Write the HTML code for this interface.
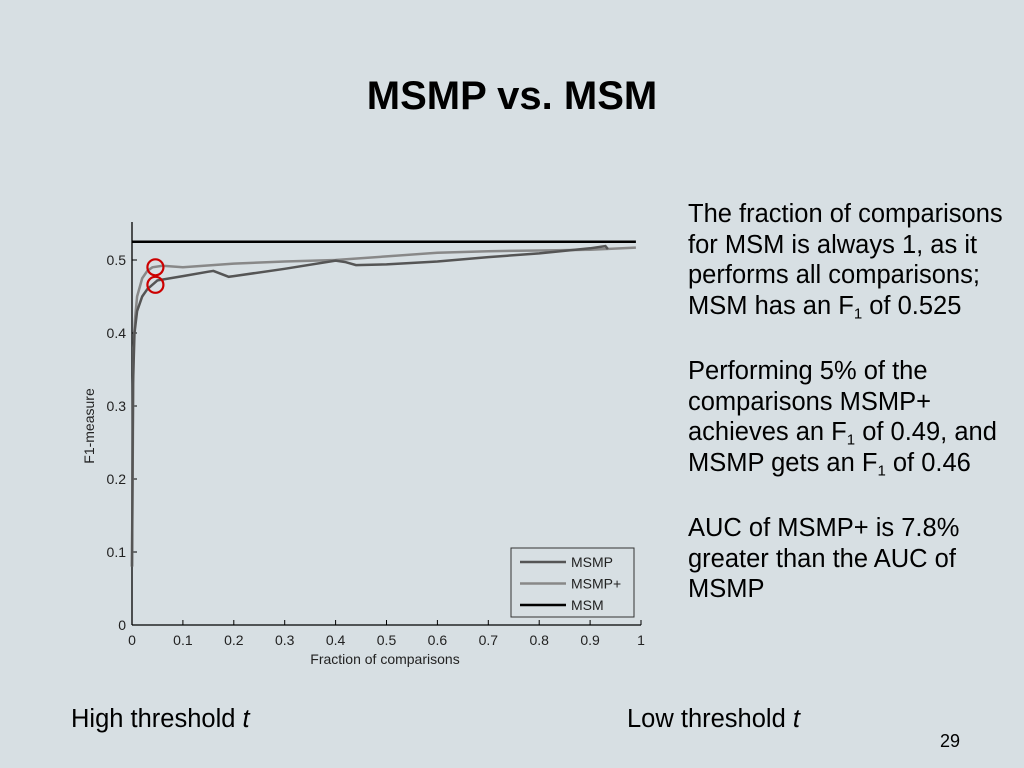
<!DOCTYPE html>
<html><head><meta charset="utf-8"><style>
body{margin:0;width:1024px;height:768px;background:#d7dfe3;font-family:"Liberation Sans",sans-serif;overflow:hidden;position:relative}
.t{position:absolute;color:#000;white-space:nowrap}
sub{font-size:15px;line-height:0;vertical-align:-0.3em}
</style></head><body>
<div class="t" style="left:0;width:1024px;top:74px;text-align:center;font-size:40px;font-weight:bold;">MSMP vs. MSM</div>
<div class="t" style="left:688px;top:199px;font-size:25.5px;line-height:30.5px;width:336px">
<div>The fraction of comparisons<br>for MSM is always 1, as it<br>performs all comparisons;<br>MSM has an F<sub>1</sub> of 0.525</div>
<div style="margin-top:35px">Performing 5% of the<br>comparisons MSMP+<br>achieves an F<sub>1</sub> of 0.49, and<br>MSMP gets an F<sub>1</sub> of 0.46</div>
<div style="margin-top:35px">AUC of MSMP+ is 7.8%<br>greater than the AUC of<br>MSMP</div>
</div>
<div class="t" style="left:71px;top:705px;font-size:25.5px">High threshold <i>t</i></div>
<div class="t" style="left:627px;top:705px;font-size:25.5px">Low threshold <i>t</i></div>
<div class="t" style="left:940px;top:731px;font-size:18px">29</div>
<svg id="chart" width="1024" height="768" style="position:absolute;left:0;top:0"></svg>
<script>
const xTicks=[0,0.1,0.2,0.3,0.4,0.5,0.6,0.7,0.8,0.9,1];
const xTickLabels=["0","0.1","0.2","0.3","0.4","0.5","0.6","0.7","0.8","0.9","1"];
const yTicks=[0,0.1,0.2,0.3,0.4,0.5];
const yTickLabels=["0","0.1","0.2","0.3","0.4","0.5"];
const msmpX=[0,0.002,0.005,0.01,0.02,0.03,0.05,0.1,0.15,0.16,0.19,0.2,0.3,0.4,0.42,0.44,0.5,0.6,0.7,0.8,0.9,0.93,0.935];
const msmpY=[0.08,0.33,0.40,0.43,0.45,0.46,0.472,0.478,0.484,0.485,0.477,0.478,0.488,0.499,0.497,0.493,0.494,0.498,0.504,0.509,0.516,0.519,0.515];
const msmpPlusX=[0,0.003,0.006,0.01,0.02,0.03,0.04,0.06,0.1,0.2,0.3,0.4,0.5,0.6,0.7,0.8,0.9,0.99];
const msmpPlusY=[0.08,0.38,0.42,0.45,0.475,0.485,0.49,0.492,0.49,0.495,0.498,0.5,0.505,0.51,0.512,0.513,0.514,0.517];
const msmX=[0,0.99];
const msmY=[0.525,0.525];
const markerX=[0.046,0.046];
const markerY=[0.49,0.466];
const legendLabels=["MSMP","MSMP+","MSM"];
const colors=["#555","#888","#000"];
const NS="http://www.w3.org/2000/svg";
const svg=document.getElementById('chart');
const sx=v=>132+v*509, sy=v=>625-v*730;
function mk(t,a){const e=document.createElementNS(NS,t);for(const k in a)e.setAttribute(k,a[k]);svg.appendChild(e);return e;}
let e;
e=mk('line',{x1:132,y1:222,x2:132,y2:625,stroke:'#000','stroke-width':1.3});


e=mk('line',{x1:132,y1:625,x2:641,y2:625,stroke:'#000','stroke-width':1.3});


xTicks.forEach((v,i)=>{
 e=mk('line',{x1:sx(v),y1:625,x2:sx(v),y2:620,stroke:'#000'});
 
 
 e=mk('text',{x:sx(v),y:645,'text-anchor':'middle','font-size':14,fill:'#222'});e.textContent=xTickLabels[i];
 
 
});
yTicks.forEach((v,i)=>{
 e=mk('line',{x1:132,y1:sy(v),x2:137,y2:sy(v),stroke:'#000'});
 
 
 e=mk('text',{x:126,y:sy(v)+5,'text-anchor':'end','font-size':14,fill:'#222'});e.textContent=yTickLabels[i];
 
 
});
e=mk('text',{x:385,y:664,'text-anchor':'middle','font-size':14,fill:'#222'});e.textContent='Fraction of comparisons';


e=mk('text',{x:94,y:426,'text-anchor':'middle','font-size':14,fill:'#222',transform:'rotate(-90 94 426)'});e.textContent='F1-measure';


function line(xs,ys,c,name){const p=xs.map((x,i)=>(i?'L':'M')+sx(x).toFixed(1)+','+sy(ys[i]).toFixed(1)).join('');
 e=mk('path',{d:p,fill:'none',stroke:c,'stroke-width':2.5});
 
 }
line(msmpPlusX,msmpPlusY,colors[1],'msmp-plus-line');
line(msmpX,msmpY,colors[0],'msmp-line');
line(msmX,msmY,colors[2],'msm-line');
markerX.forEach((x,i)=>{
 e=mk('circle',{cx:sx(x),cy:sy(markerY[i]),r:8,fill:'none',stroke:'#c00','stroke-width':2.2});
 
 
});
e=mk('rect',{x:511,y:548,width:123,height:69,fill:'#d7dfe3',stroke:'#333'});


legendLabels.forEach((l,i)=>{
 const y=562+i*21.5;
 e=mk('line',{x1:520,y1:y,x2:566,y2:y,stroke:colors[i],'stroke-width':2.5});
 
 
 e=mk('text',{x:571,y:y+5,'font-size':14,fill:'#222'});e.textContent=l;
 
 
});
</script>
</body></html>
